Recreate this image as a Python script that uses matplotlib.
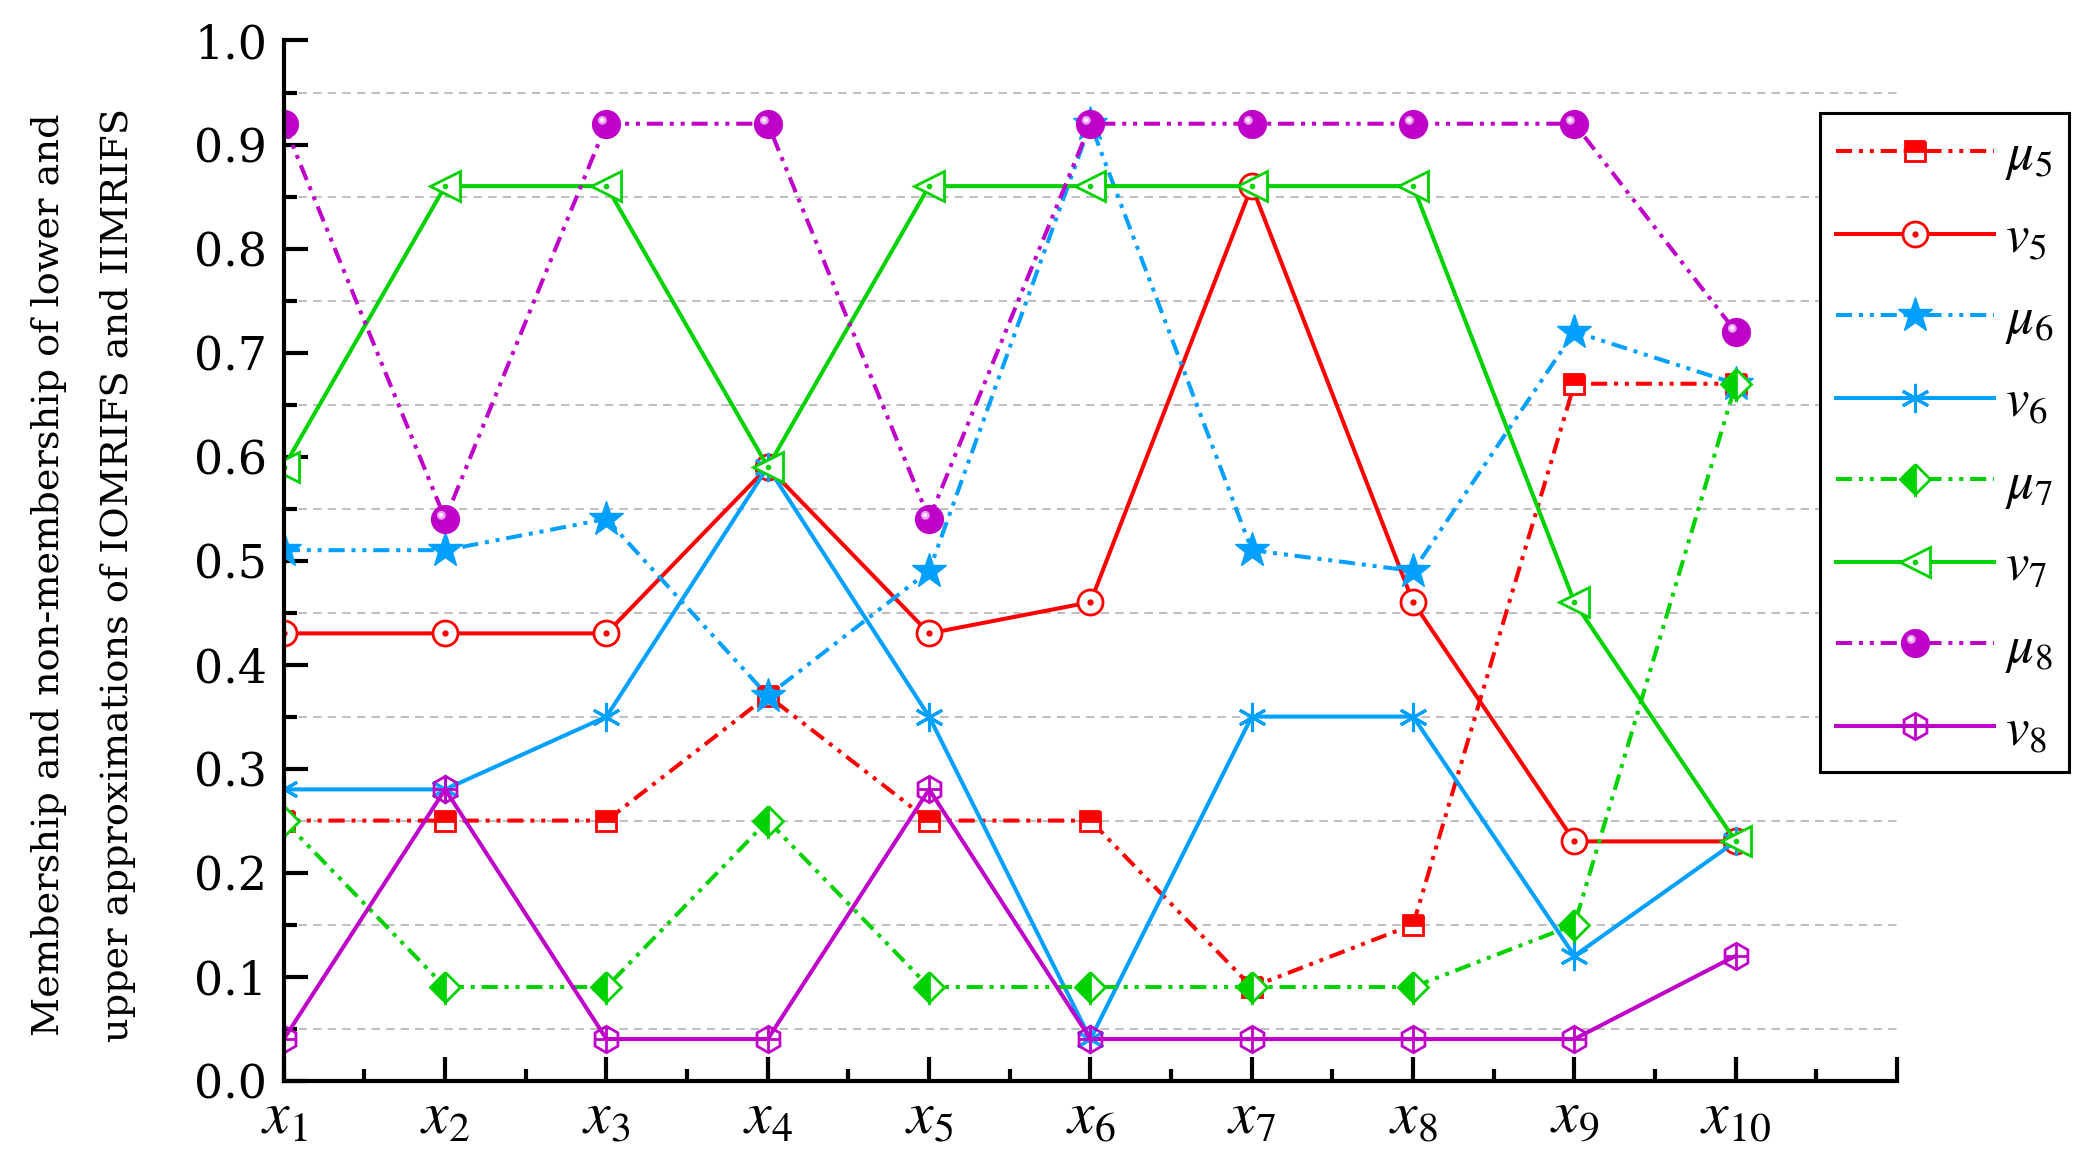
import numpy as np
import matplotlib.pyplot as plt
from matplotlib.path import Path
from matplotlib.legend_handler import HandlerTuple
from matplotlib.ticker import MultipleLocator, FixedLocator, FormatStrFormatter

plt.rcParams['font.family'] = ['DejaVu Serif']
plt.rcParams['mathtext.fontset'] = 'stix'

# data
objects = np.arange(1, 11)
x_labels = ['$x_{%d}$' % i for i in range(1, 11)]

mu5 = [0.25, 0.25, 0.25, 0.37, 0.25, 0.25, 0.09, 0.15, 0.67, 0.67]
v5 = [0.43, 0.43, 0.43, 0.59, 0.43, 0.46, 0.86, 0.46, 0.23, 0.23]
mu6 = [0.51, 0.51, 0.54, 0.37, 0.49, 0.92, 0.51, 0.49, 0.72, 0.67]
v6 = [0.28, 0.28, 0.35, 0.59, 0.35, 0.04, 0.35, 0.35, 0.12, 0.23]
mu7 = [0.25, 0.09, 0.09, 0.25, 0.09, 0.09, 0.09, 0.09, 0.15, 0.67]
v7 = [0.59, 0.86, 0.86, 0.59, 0.86, 0.86, 0.86, 0.86, 0.46, 0.23]
mu8 = [0.92, 0.54, 0.92, 0.92, 0.54, 0.92, 0.92, 0.92, 0.92, 0.72]
v8 = [0.04, 0.28, 0.04, 0.04, 0.28, 0.04, 0.04, 0.04, 0.04, 0.12]

RED = '#ff0000'
BLUE = '#00a0ff'
GREEN = '#00d200'
PURPLE = '#bf00c8'
DDOT = (0, (4, 1.7, 1, 1.7, 1, 1.7))
LW = 2.9


def circle_at(cx, cy, r):
    # small circle inside the unit marker box (the lone MOVETO keeps the scale)
    c = Path.circle((cx, cy), r)
    verts = np.vstack([[[1, 1]], c.vertices])
    codes = np.concatenate([[Path.MOVETO], c.codes])
    return Path(verts, codes)


fig = plt.figure(figsize=(20.87, 11.57), dpi=100)
ax = fig.add_axes([0.136, 0.066, 0.773, 0.899])

handles = []

h, = ax.plot(objects, mu5, color=RED, lw=LW, ls=DDOT, marker='s', ms=15,
             fillstyle='top', markerfacecoloralt='white', mec=RED, mew=2)
handles.append(h)

h, = ax.plot(objects, v5, color=RED, lw=LW, marker='o', ms=18, mfc='white', mec=RED, mew=2)
d, = ax.plot(objects, v5, ls='none', marker='o', ms=3.5, color=RED)
handles.append((h, d))

h, = ax.plot(objects, mu6, color=BLUE, lw=LW, ls=DDOT, marker='*', ms=26, mec=BLUE)
handles.append(h)

h, = ax.plot(objects, v6, color=BLUE, lw=LW, marker=(6, 2, 0), ms=21, mec=BLUE, mew=2.2)
handles.append(h)

h, = ax.plot(objects, mu7, color=GREEN, lw=LW, ls=DDOT, marker='D', ms=15,
             fillstyle='left', markerfacecoloralt='white', mec=GREEN, mew=2)
handles.append(h)

h, = ax.plot(objects, v7, color=GREEN, lw=LW, marker='<', ms=21, mfc='white', mec=GREEN, mew=2)
d, = ax.plot(objects, v7, ls='none', marker='o', ms=3, color=GREEN)
handles.append((h, d))

h, = ax.plot(objects, mu8, color=PURPLE, lw=LW, ls=DDOT, marker='o', ms=20, mfc=PURPLE, mec=PURPLE)
g1, = ax.plot(objects, mu8, ls='none', marker=circle_at(-0.3, 0.3, 0.32), ms=20,
              mfc='#e7a2ee', mec='none')
g2, = ax.plot(objects, mu8, ls='none', marker=circle_at(-0.32, 0.32, 0.16), ms=20,
              mfc='#fbe8fc', mec='none')
handles.append((h, g1, g2))

h, = ax.plot(objects, v8, color=PURPLE, lw=LW, marker='h', ms=19, mfc='none', mec=PURPLE, mew=2)
c, = ax.plot(objects, v8, ls='none', marker='+', ms=17, mec=PURPLE, mew=2)
handles.append((h, c))

labels = [r'$\mu_5$', r'$v_5$', r'$\mu_6$', r'$v_6$', r'$\mu_7$', r'$v_7$', r'$\mu_8$', r'$v_8$']

# axes styling
ax.set_xlim(1, 11)
ax.set_ylim(0, 1.0)
for side in ['top', 'right']:
    ax.spines[side].set_visible(False)
for side in ['left', 'bottom']:
    ax.spines[side].set_linewidth(3)

ax.xaxis.set_major_locator(FixedLocator(list(range(1, 12))))
ax.set_xticklabels(x_labels + [''])
ax.xaxis.set_minor_locator(MultipleLocator(0.5))
ax.yaxis.set_major_locator(MultipleLocator(0.1))
ax.yaxis.set_minor_locator(MultipleLocator(0.05))
ax.yaxis.set_major_formatter(FormatStrFormatter('%.1f'))

ax.tick_params(which='major', direction='in', length=17, width=3)
ax.tick_params(which='minor', direction='in', length=9, width=3)
ax.tick_params(axis='y', labelsize=33, pad=12)
ax.tick_params(axis='x', labelsize=43, pad=5)

ax.yaxis.grid(True, which='minor', color='#c0c0c0', ls=(0, (4, 3)), lw=1.5)
ax.set_axisbelow(True)

fig.text(0.040, 0.503,
         'Membership and non-membership of lower and\n'
         'upper approximations of IOMRIFS and IIMRIFS',
         rotation=90, ha='center', va='center', fontsize=27.5, linespacing=2.2)

leg = fig.legend(handles, labels, loc='upper left', bbox_to_anchor=(0.872, 0.902),
                 handler_map={tuple: HandlerTuple(ndivide=1, pad=0)},
                 fontsize=38, handlelength=3.0, handletextpad=0.2, labelspacing=0.57,
                 borderpad=0.3, borderaxespad=0, fancybox=False, framealpha=1,
                 edgecolor='black')
leg.get_frame().set_linewidth(2.2)

fig.savefig('out.png', dpi=100)
